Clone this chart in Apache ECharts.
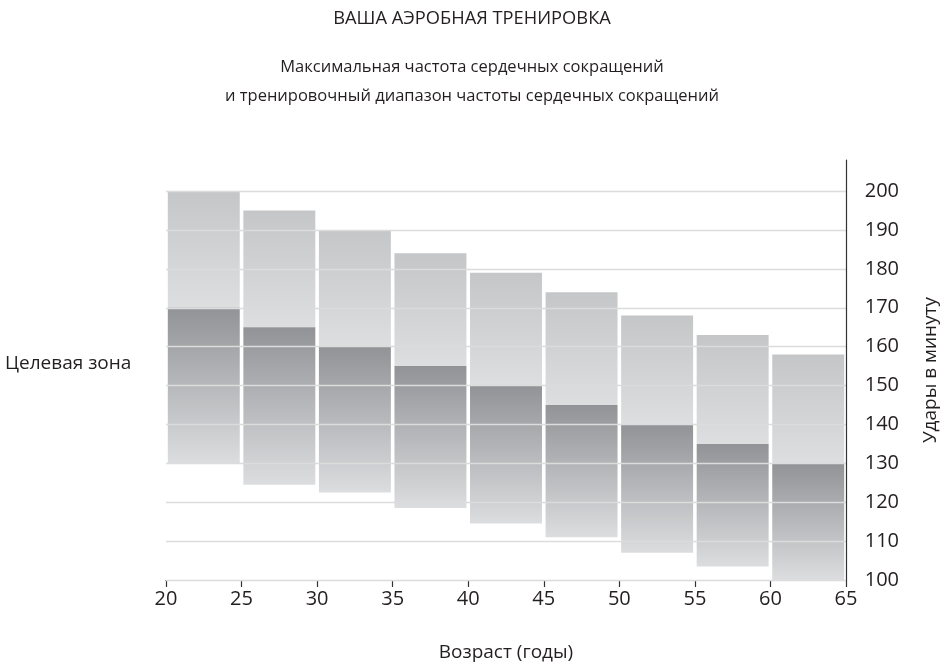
<!DOCTYPE html>
<html>
<head>
<meta charset="utf-8">
<script src="https://cdn.jsdelivr.net/npm/echarts@6/dist/echarts.min.js"></script>
<style>
  html, body { margin: 0; padding: 0; background: #fff; }
  #chart { width: 944px; height: 669px; }
</style>
</head>
<body>
<div id="chart"></div>
<script>
var ageStart = [20, 25, 30, 35, 40, 45, 50, 55, 60];
var ageEnd = [25, 30, 35, 40, 45, 50, 55, 60, 65];
// max heart rate (top of light part)
var maxRate = [200, 195, 190, 184, 179, 174, 168, 163, 158];
// upper bound of target zone (top of dark part)
var zoneTop = [170, 165, 160, 155, 150, 145, 140, 135, 130];
// lower bound of target zone (bottom of bar)
var zoneBottom = [130, 124.5, 122.5, 118.5, 114.5, 111, 107, 103.5, 100];
var yTicks = [100, 110, 120, 130, 140, 150, 160, 170, 180, 190, 200];

var FONT = 'Open Sans';
var TXT = '#231f20';

var data = [];
for (var i = 0; i < ageStart.length; i++) {
  data.push([ageStart[i], ageEnd[i], zoneBottom[i], zoneTop[i], maxRate[i]]);
}

// one colour per split line, the last one (axis top) hidden
var gridColors = yTicks.map(function () { return '#dcdcdc'; });
gridColors.push('rgba(0,0,0,0)');

function grad(c1, c2) {
  return new echarts.graphic.LinearGradient(0, 0, 0, 1, [
    { offset: 0, color: c1 },
    { offset: 1, color: c2 }
  ]);
}

var subStyle = { fontFamily: FONT, fontSize: 16.5, fontWeight: 'normal', color: TXT };

var myChart = echarts.init(document.getElementById('chart'));

var option = {
  backgroundColor: '#fff',
  animation: false,
  title: [{
    text: 'ВАША АЭРОБНАЯ ТРЕНИРОВКА',
    left: 'center',
    top: 5,
    textStyle: { fontFamily: FONT, fontSize: 18.3, fontWeight: 'normal', color: TXT }
  }, {
    text: 'Максимальная частота сердечных сокращений',
    left: 'center',
    top: 54,
    textStyle: subStyle
  }, {
    text: 'и тренировочный диапазон частоты сердечных сокращений',
    left: 'center',
    top: 83,
    textStyle: subStyle
  }],
  graphic: [{
    type: 'text',
    left: 5,
    top: 354,
    style: { text: 'Целевая зона', font: '19px "Open Sans"', fill: TXT }
  }],
  grid: { left: 166, right: 98, top: 160, bottom: 89, outerBoundsMode: 'none' },
  xAxis: {
    type: 'value',
    min: 20,
    max: 65,
    interval: 5,
    name: 'Возраст (годы)',
    nameLocation: 'middle',
    nameGap: 63,
    nameTextStyle: { fontFamily: FONT, fontSize: 19, color: TXT },
    axisLine: { lineStyle: { color: '#333', width: 1.2 } },
    axisTick: { show: true, inside: false, length: 7, lineStyle: { color: '#333', width: 1.2 } },
    axisLabel: { fontFamily: FONT, fontSize: 20, color: TXT, margin: 9 },
    splitLine: { show: false }
  },
  yAxis: {
    type: 'value',
    position: 'right',
    min: 100,
    max: 208,
    interval: 10,
    z: 10,
    name: 'Удары в минуту',
    nameLocation: 'middle',
    nameRotate: 90,
    nameGap: 75,
    nameTextStyle: { fontFamily: FONT, fontSize: 19, color: TXT },
    axisLine: { show: true, lineStyle: { color: '#333', width: 1.2 } },
    axisTick: { show: false },
    axisLabel: {
      fontFamily: FONT, fontSize: 20, color: TXT, margin: 53, align: 'right',
      showMaxLabel: false
    },
    splitLine: { show: true, lineStyle: { color: gridColors, width: 1.3 } }
  },
  series: [{
    type: 'custom',
    data: data,
    encode: { x: [0, 1], y: [2, 3, 4] },
    renderItem: function (params, api) {
      var pBL = api.coord([api.value(0), api.value(2)]);
      var pMid = api.coord([api.value(0), api.value(3)]);
      var pTR = api.coord([api.value(1), api.value(4)]);
      var left = pBL[0] + 1.8;
      var width = pTR[0] - pBL[0] - 3.6;
      return {
        type: 'group',
        children: [{
          type: 'rect',
          shape: { x: left, y: pTR[1], width: width, height: pMid[1] - pTR[1] },
          style: { fill: grad('#c5c6c8', '#dddee0') }
        }, {
          type: 'rect',
          shape: { x: left, y: pMid[1], width: width, height: pBL[1] - pMid[1] },
          style: { fill: grad('#929397', '#dcdddf') }
        }]
      };
    }
  }]
};

myChart.setOption(option);
</script>
</body>
</html>
